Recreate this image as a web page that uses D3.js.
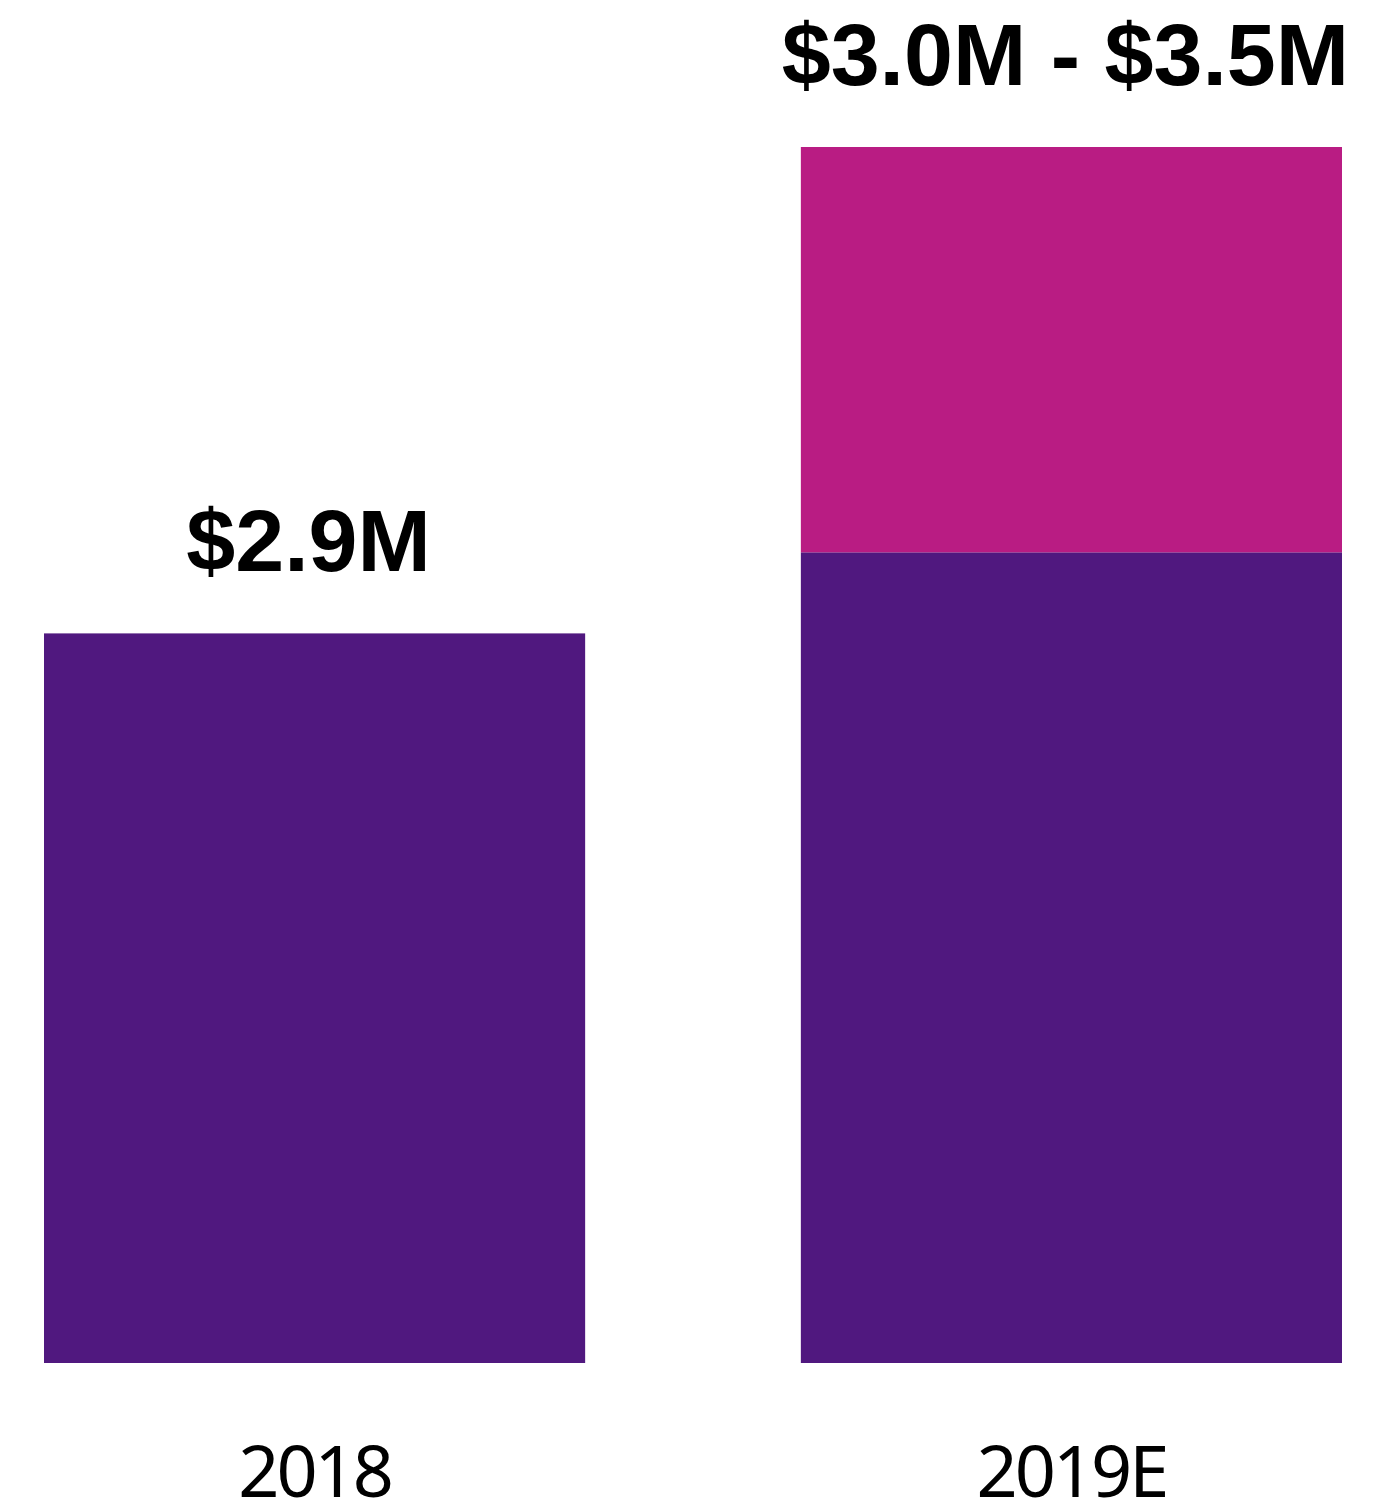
<!DOCTYPE html>
<html>
<head>
<meta charset="utf-8">
<script src="https://cdn.jsdelivr.net/npm/d3@7"></script>
<style>
	body { margin: 0; background: #fff; }
</style>
</head>
<body>
<div id="chart"></div>
<script>
// DATA
var years = ["2018", "2019E"];
var baseValues = [2.9, 3.0];
var rangeTop = [null, 3.5];
var valueLabels = ["$2.9M", "$3.0M - $3.5M"];

// SIZE
var width = 1398,
	height = 1507;

var svg = d3
	.select("#chart")
	.append("svg")
	.attr("width", width)
	.attr("height", height);

// SCALES (axis starts at 2.0, not zero)
var x = d3
	.scaleBand()
	.domain(years)
	.range([44, 1342])
	.paddingInner(0.285)
	.paddingOuter(0);

var y = d3.scaleLinear().domain([2.0, 3.5]).range([1363, 147]);

// BASE BARS (purple)
svg
	.selectAll(".bar-base")
	.data(years)
	.join("rect")
	.attr("class", "bar-base")
	.attr("x", function (d) {
		return x(d);
	})
	.attr("width", x.bandwidth())
	.attr("y", function (d, i) {
		return y(baseValues[i]);
	})
	.attr("height", function (d, i) {
		return y(2.0) - y(baseValues[i]);
	})
	.attr("fill", "#50187f");

// RANGE BAR (pink)
svg
	.selectAll(".bar-range")
	.data(years.filter(function (d, i) {
		return rangeTop[i] !== null;
	}))
	.join("rect")
	.attr("class", "bar-range")
	.attr("x", function (d) {
		return x(d);
	})
	.attr("width", x.bandwidth())
	.attr("y", function (d) {
		return y(rangeTop[years.indexOf(d)]);
	})
	.attr("height", function (d) {
		var i = years.indexOf(d);
		return y(baseValues[i]) - y(rangeTop[i]);
	})
	.attr("fill", "#b91c83");

// VALUE LABELS
svg
	.selectAll(".value-label")
	.data(years)
	.join("text")
	.attr("class", "value-label")
	.attr("x", function (d) {
		return x(d) + x.bandwidth() / 2 - 6;
	})
	.attr("y", function (d, i) {
		var top = rangeTop[i] !== null ? rangeTop[i] : baseValues[i];
		return y(top) - 62;
	})
	.attr("text-anchor", "middle")
	.style("font-family", "'Liberation Sans', Arial, sans-serif")
	.style("font-weight", "bold")
	.style("font-size", "88px")
	.attr("fill", "#000")
	.text(function (d, i) {
		return valueLabels[i];
	});

// X-AXIS LABELS
var xAxis = svg
	.append("g")
	.attr("transform", "translate(0,1363)")
	.call(d3.axisBottom(x).tickSize(0).tickPadding(0));
xAxis.select(".domain").remove();
xAxis
	.selectAll("text")
	.attr("dy", null)
	.attr("y", 134)
	.style("font-family", "'Noto Sans', sans-serif")
	.style("font-size", "72px")
	.style("letter-spacing", "-3px")
	.attr("fill", "#000");
</script>
</body>
</html>
